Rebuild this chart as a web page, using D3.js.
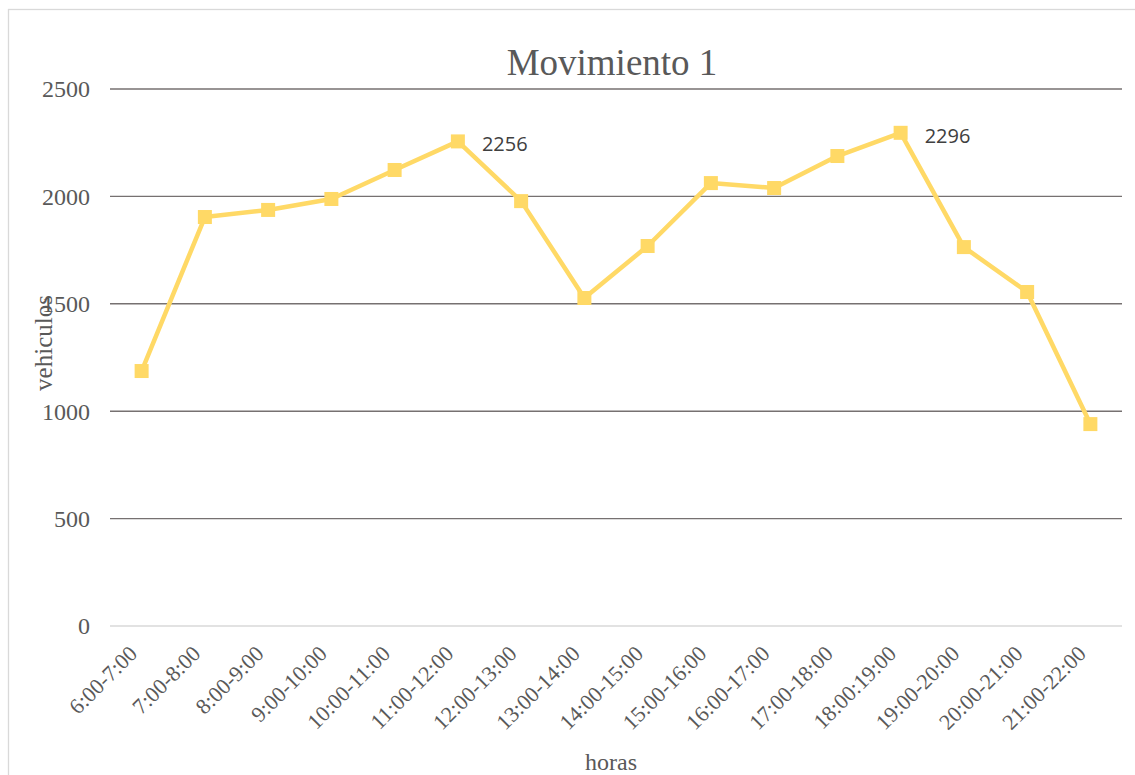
<!DOCTYPE html>
<html>
<head>
<meta charset="utf-8">
<script src="https://cdn.jsdelivr.net/npm/d3@7"></script>
<style>
  body { margin: 0; background: #fff; }
  svg { display: block; }
</style>
</head>
<body>
<svg id="chart"></svg>
<script>
const width = 1135;
const height = 775;

const categories = ["6:00-7:00", "7:00-8:00", "8:00-9:00", "9:00-10:00", "10:00-11:00", "11:00-12:00",
  "12:00-13:00", "13:00-14:00", "14:00-15:00", "15:00-16:00", "16:00-17:00", "17:00-18:00",
  "18:00:19:00", "19:00-20:00", "20:00-21:00", "21:00-22:00"];
const vehiculos = [1187, 1904, 1937, 1988, 2123, 2256, 1978, 1527, 1769, 2062, 2039, 2188, 2296, 1764, 1555, 940];
const labelled = ["11:00-12:00", "18:00:19:00"];
const yTicks = [0, 500, 1000, 1500, 2000, 2500];

const margin = { left: 110, right: 13, top: 89, bottom: 149 };
const serif = "'Liberation Serif', 'Times New Roman', serif";

const svg = d3.select("#chart").attr("width", width).attr("height", height);

// chart border
svg.append("rect")
  .attr("x", 8.5).attr("y", 9.5)
  .attr("width", width).attr("height", height)
  .attr("fill", "none").attr("stroke", "#d9d9d9").attr("stroke-width", 1.3);

const x = d3.scalePoint()
  .domain(categories)
  .range([margin.left, width - margin.right])
  .padding(0.5);

const y = d3.scaleLinear()
  .domain([0, 2500])
  .range([height - margin.bottom, margin.top]);

// gridlines
svg.append("g")
  .selectAll("line")
  .data(yTicks)
  .join("line")
  .attr("x1", margin.left).attr("x2", width - margin.right)
  .attr("y1", d => y(d)).attr("y2", d => y(d))
  .attr("stroke", d => d === 0 ? "#d9d9d9" : "#767171")
  .attr("stroke-width", 1.4);

// y labels
svg.append("g")
  .selectAll("text")
  .data(yTicks)
  .join("text")
  .attr("x", 90)
  .attr("y", d => y(d))
  .attr("dy", "0.35em")
  .attr("text-anchor", "end")
  .style("font-family", serif)
  .attr("font-size", 24)
  .attr("fill", "#595959")
  .text(d => d);

// x labels
svg.append("g")
  .selectAll("text")
  .data(categories)
  .join("text")
  .attr("transform", d => `translate(${x(d) - 3},${y(0) + 29}) rotate(-45)`)
  .attr("text-anchor", "end")
  .style("font-family", serif)
  .attr("font-size", 22)
  .attr("fill", "#595959")
  .text(d => d);

// line
const line = d3.line()
  .x((d, i) => x(categories[i]))
  .y(d => y(d));

svg.append("path")
  .datum(vehiculos)
  .attr("d", line)
  .attr("fill", "none")
  .attr("stroke", "#ffd966")
  .attr("stroke-width", 4.5)
  .attr("stroke-linejoin", "round");

// markers
svg.append("g")
  .selectAll("rect")
  .data(vehiculos)
  .join("rect")
  .attr("x", (d, i) => x(categories[i]) - 7)
  .attr("y", d => y(d) - 7)
  .attr("width", 14).attr("height", 14)
  .attr("fill", "#ffd966");

// data labels
svg.append("g")
  .selectAll("text")
  .data(categories.map((c, i) => ({ c, v: vehiculos[i] })).filter(d => labelled.includes(d.c)))
  .join("text")
  .attr("x", d => x(d.c) + 24)
  .attr("y", d => y(d.v) + 10)
  .style("font-family", "'Open Sans', 'Liberation Sans', sans-serif")
  .attr("font-size", 20)
  .attr("fill", "#404040")
  .text(d => d.v);

// title
svg.append("text")
  .attr("x", 612).attr("y", 75)
  .attr("text-anchor", "middle")
  .style("font-family", serif)
  .attr("font-size", 37)
  .attr("fill", "#595959")
  .text("Movimiento 1");

// axis titles
svg.append("text")
  .attr("transform", "translate(52,343) rotate(-90)")
  .attr("text-anchor", "middle")
  .style("font-family", serif)
  .attr("font-size", 25)
  .attr("fill", "#595959")
  .text("vehiculos");

svg.append("text")
  .attr("x", 611).attr("y", 770)
  .attr("text-anchor", "middle")
  .style("font-family", serif)
  .attr("font-size", 24)
  .attr("fill", "#595959")
  .text("horas");
</script>
</body>
</html>
